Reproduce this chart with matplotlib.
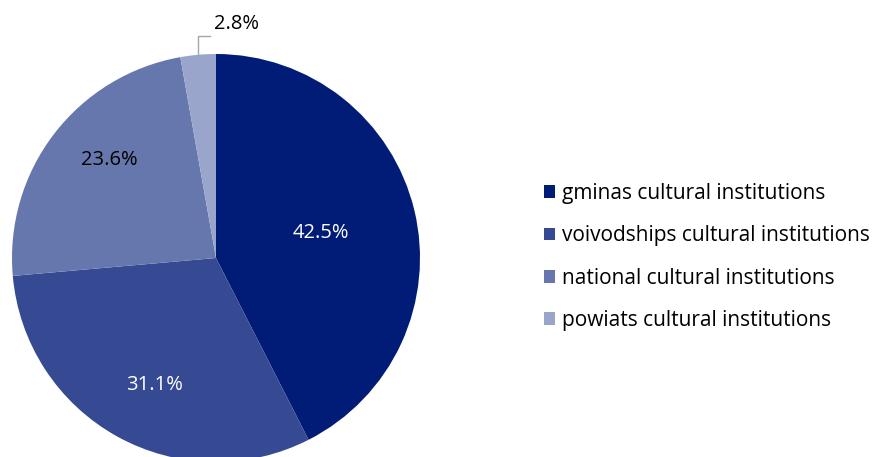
import matplotlib
matplotlib.use('Agg')
import matplotlib.pyplot as plt
import numpy as np
from matplotlib.patches import Patch

plt.rcParams['font.family'] = ['Open Sans', 'DejaVu Sans']

categories = ['gminas cultural institutions', 'voivodships cultural institutions',
              'national cultural institutions', 'powiats cultural institutions']
shares = [42.5, 31.1, 23.6, 2.8]
colors = ['#001c77', '#354a92', '#6677ad', '#99a5ca']
text_colors = ['white', 'white', 'black', 'black']
# label placement: distance from centre (radius units) and angle nudge (deg)
label_dist = [0.53, 0.69, 0.71, None]
label_nudge = [0, 3, -5, 0]

W, H = 875, 457
fig = plt.figure(figsize=(W / 100, H / 100), dpi=100)
cx, cy, r = 216, 258, 204
ax = fig.add_axes([(cx - r) / W, (H - cy - r) / H, 2 * r / W, 2 * r / H])
wedges, _ = ax.pie(shares, colors=colors, startangle=90, counterclock=False,
                   wedgeprops=dict(linewidth=0))
ax.set_xlim(-1, 1)
ax.set_ylim(-1, 1)
for w in wedges:
    w.set_clip_on(False)

for w, val, d, nd, tc in zip(wedges, shares, label_dist, label_nudge, text_colors):
    mid = np.deg2rad((w.theta1 + w.theta2) / 2 + nd)
    if d is not None:
        ax.text(d * np.cos(mid), d * np.sin(mid), f'{val}%', ha='center', va='center',
                color=tc, fontsize=14.5)
    else:
        x0, y0 = np.cos(mid), np.sin(mid)
        y1 = y0 + 0.09
        ax.plot([x0, x0, x0 + 0.06], [y0, y1, y1], color='#a6a6a6', lw=1, clip_on=False)
        ax.text(x0 + 0.08, y1 + 0.06, f'{val}%', ha='left', va='center',
                color='black', fontsize=14.5)

handles = [Patch(facecolor=c, edgecolor='none') for c in colors]
fig.legend(handles, categories, loc='center left', bbox_to_anchor=(544 / W, 1 - 257 / H),
           frameon=False, fontsize=15, handlelength=0.55, handleheight=0.55,
           handletextpad=0.3, labelspacing=1.02, borderpad=0, borderaxespad=0)

fig.savefig('out.png', dpi=100)
